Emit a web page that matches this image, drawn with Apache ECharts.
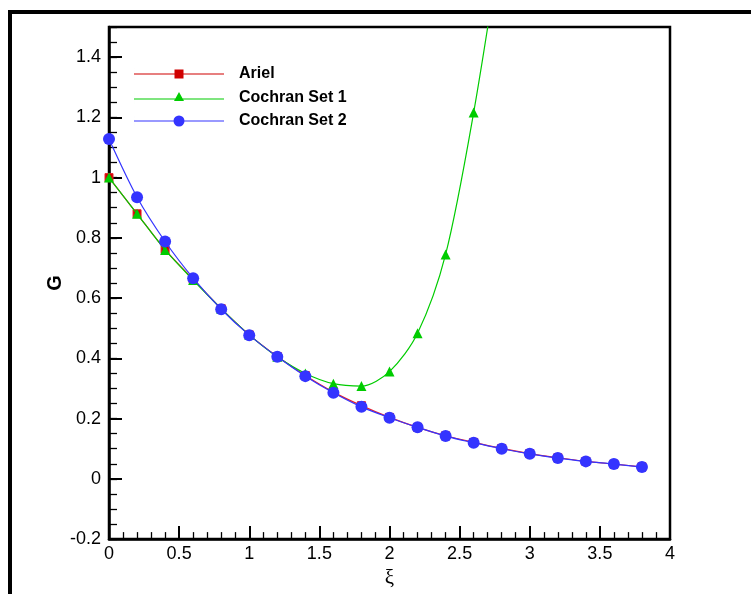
<!DOCTYPE html>
<html>
<head>
<meta charset="utf-8">
<script src="https://cdn.jsdelivr.net/npm/echarts@6/dist/echarts.min.js"></script>
<style>
  html, body { margin: 0; padding: 0; background: #fff; }
  #chart { width: 751px; height: 594px; }
</style>
</head>
<body>
<div id="chart"></div>
<script>
// Similarity variable xi sampled every 0.2
const xi = [0, 0.2, 0.4, 0.6, 0.8, 1.0, 1.2, 1.4, 1.6, 1.8, 2.0, 2.2, 2.4, 2.6, 2.8, 3.0, 3.2, 3.4, 3.6, 3.8];

// G(xi) for the three solutions
const ariel = [1.0, 0.88, 0.761, 0.662, 0.565, 0.478, 0.406, 0.343, 0.288, 0.243, 0.204, 0.171, 0.143, 0.121, 0.101, 0.084, 0.07, 0.058, 0.049, 0.04];
const cochran1 = [1.0, 0.88, 0.76, 0.66, 0.565, 0.478, 0.405, 0.35, 0.316, 0.308, 0.356, 0.483, 0.745, 1.216, 1.8];
const cochran2 = [1.128, 0.935, 0.788, 0.666, 0.563, 0.477, 0.405, 0.341, 0.286, 0.239, 0.203, 0.171, 0.142, 0.12, 0.1, 0.083, 0.069, 0.058, 0.049, 0.039];

const seriesNames = ['Ariel', 'Cochran Set 1', 'Cochran Set 2'];

const pairs = (ys) => ys.map((y, i) => [xi[i], y]);

// legend keys: a thin line with the series marker in the middle (90 x 13 box)
const keyBox = 'M0,0 L0.01,0 L0.01,13 L0,13 Z ';
const legendIcons = [
  'path://' + keyBox + 'M0,6 L90,6 L90,7 L0,7 Z M40.5,2 L49.5,2 L49.5,11 L40.5,11 Z',
  'path://' + keyBox + 'M0,7.5 L90,7.5 L90,8.5 L0,8.5 Z M45,1 L50,10 L40,10 Z',
  'path://' + keyBox + 'M0,6 L90,6 L90,7 L0,7 Z M39.5,6.5 A5.5,5.5 0 1,1 50.5,6.5 A5.5,5.5 0 1,1 39.5,6.5 Z'
];

const tickFont = { fontFamily: 'Liberation Sans, Arial, sans-serif', fontSize: 18, color: '#000' };

const chart = echarts.init(document.getElementById('chart'), null, { renderer: 'canvas' });

chart.setOption({
  backgroundColor: '#fff',
  animation: false,
  graphic: [{
    type: 'rect',
    shape: { x: 10, y: 12, width: 800, height: 700 },
    style: { fill: 'none', stroke: '#000', lineWidth: 4 },
    silent: true
  }],
  grid: {
    left: 109, right: 81, top: 27, bottom: 52,
    show: true, borderColor: '#000', borderWidth: 2.5, backgroundColor: 'transparent'
  },
  legend: {
    orient: 'vertical',
    left: 129, top: 61,
    itemWidth: 90, itemHeight: 13, itemGap: 7.5,
    itemStyle: { borderWidth: 0 },
    data: seriesNames.map((name, i) => ({ name: name, icon: legendIcons[i] })),
    textStyle: { fontFamily: 'Liberation Sans, Arial, sans-serif', fontSize: 16, fontWeight: 'bold', color: '#000', padding: [0, 0, 0, 10] }
  },
  xAxis: {
    type: 'value', min: 0, max: 4, interval: 0.5,
    name: 'ξ', nameLocation: 'middle', nameGap: 24,
    nameTextStyle: { fontFamily: 'Liberation Serif, DejaVu Serif, serif', fontSize: 21, color: '#000' },
    axisLine: { show: true, onZero: false, lineStyle: { color: '#000', width: 2.5 } },
    axisTick: { show: true, inside: true, length: 13, lineStyle: { color: '#000', width: 2 } },
    minorTick: { show: true, splitNumber: 5, length: 7, lineStyle: { color: '#000', width: 1.3 } },
    axisLabel: Object.assign({ margin: 6 }, tickFont),
    splitLine: { show: false }, minorSplitLine: { show: false }
  },
  yAxis: [{
    type: 'value', min: -0.2, max: 1.5, interval: 0.2,
    name: 'G', nameLocation: 'middle', nameGap: 44, nameMoveOverlap: false,
    nameTextStyle: { fontFamily: 'Liberation Sans, Arial, sans-serif', fontSize: 20, fontWeight: 'bold', color: '#000' },
    axisLine: { show: true, onZero: false, lineStyle: { color: '#000', width: 2.5 } },
    axisTick: { show: true, inside: true, length: 13, lineStyle: { color: '#000', width: 2 } },
    axisLabel: Object.assign({ margin: 8, showMaxLabel: false }, tickFont),
    splitLine: { show: false }
  }, {
    // minor ticks every 0.05 on the left axis
    type: 'value', min: -0.2, max: 1.5, interval: 0.05, position: 'left',
    axisLine: { show: false },
    axisTick: { show: true, inside: true, length: 8, lineStyle: { color: '#000', width: 1.3 } },
    axisLabel: { show: false },
    splitLine: { show: false }
  }],
  series: [{
    name: 'Ariel', type: 'line', smooth: 0.3, yAxisIndex: 0,
    data: pairs(ariel),
    symbol: 'rect', symbolSize: 8,
    lineStyle: { color: '#e8202a', width: 1.2 },
    itemStyle: { color: '#d00000', borderColor: '#e8202a', borderWidth: 1 },
    z: 2
  }, {
    name: 'Cochran Set 1', type: 'line', smooth: 0.3, yAxisIndex: 0,
    data: pairs(cochran1),
    symbol: 'triangle', symbolSize: 10,
    lineStyle: { color: '#00cc00', width: 1.2 },
    itemStyle: { color: '#00cc00' },
    z: 3
  }, {
    name: 'Cochran Set 2', type: 'line', smooth: 0.3, yAxisIndex: 0,
    data: pairs(cochran2),
    symbol: 'circle', symbolSize: 12,
    lineStyle: { color: '#3434ff', width: 1.2 },
    itemStyle: { color: '#3434ff' },
    z: 4
  }]
});
</script>
</body>
</html>
